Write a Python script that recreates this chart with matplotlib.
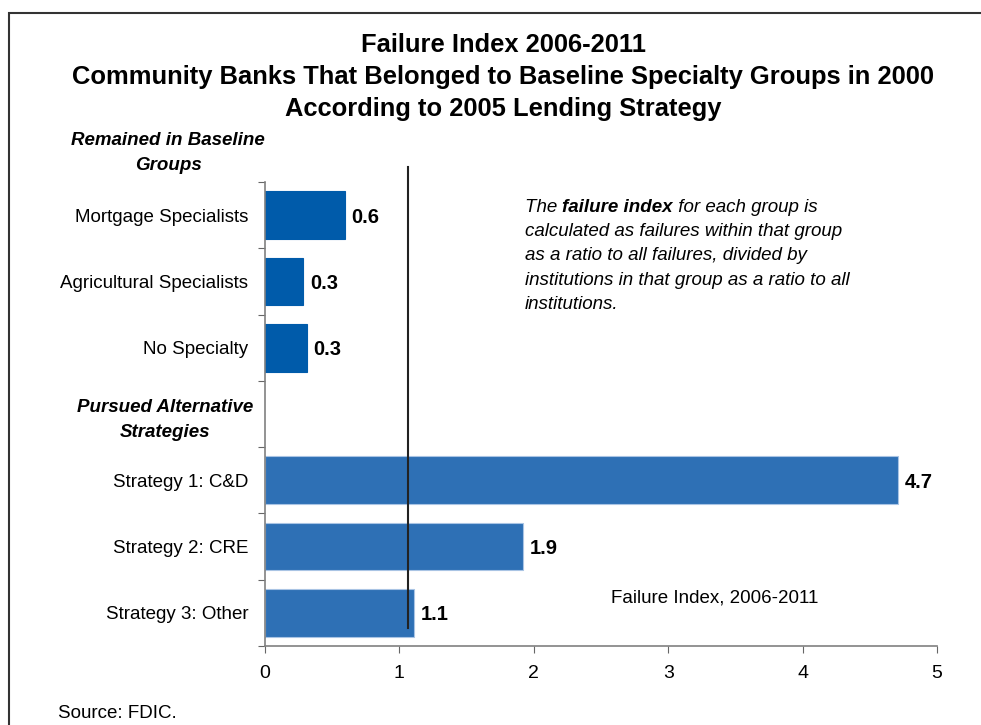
import matplotlib.pyplot as plt
from matplotlib.patches import Rectangle

plt.rcParams['font.family'] = ['Liberation Sans', 'DejaVu Sans']

# data
categories = ["Mortgage Specialists", "Agricultural Specialists", "No Specialty", "",
              "Strategy 1: C&D", "Strategy 2: CRE", "Strategy 3: Other"]
values = [0.595, 0.285, 0.31, None, 4.71, 1.92, 1.11]
value_labels = ["0.6", "0.3", "0.3", "", "4.7", "1.9", "1.1"]
bar_colors = ["#005BAA", "#005BAA", "#005BAA", None, "#2E70B5", "#2E70B5", "#2E70B5"]
ref_line = 1.064
xticks = [0, 1, 2, 3, 4, 5]

title = ("Failure Index 2006-2011\n"
         "Community Banks That Belonged to Baseline Specialty Groups in 2000\n"
         "According to 2005 Lending Strategy")
note_lines = ["calculated as failures within that group",
              "as a ratio to all failures, divided by",
              "institutions in that group as a ratio to all",
              "institutions."]

W, H = 981, 725
fig = plt.figure(figsize=(W / 100, H / 100), dpi=100)
ax = fig.add_axes([265 / W, 1 - 646 / H, (937 - 265) / W, (646 - 182) / H])

for i, (v, lab, c) in enumerate(zip(values, value_labels, bar_colors)):
    if v is None:
        continue
    edge = "#A9C4E4" if c == "#2E70B5" else c
    ax.barh(i, v, height=0.72, color=c, edgecolor=edge, linewidth=0.8)
    ax.text(v + 0.05, i + 0.03, lab, va="center", ha="left", fontsize=14.5, fontweight="bold")

ax.set_xlim(0, 5)
ax.set_ylim(6.5, -0.5)
ax.set_xticks(xticks)
ax.set_xticklabels([str(t) for t in xticks], fontsize=14)
ax.set_yticks([i - 0.5 for i in range(len(categories) + 1)])
ax.set_yticklabels([])
ax.set_yticks(range(len(categories)), minor=True)
ax.set_yticklabels(categories, minor=True, fontsize=13.5)
ax.tick_params(axis="y", which="minor", length=0, pad=12)
ax.tick_params(axis="y", which="major", length=5, color="#666666", direction="out")
ax.tick_params(axis="x", length=5, color="#666666", pad=9)
for s in ["top", "right"]:
    ax.spines[s].set_visible(False)
for s in ["left", "bottom"]:
    ax.spines[s].set_color("#808080")
    ax.spines[s].set_linewidth(1.2)

ax.axvline(ref_line, ymin=0.039, ymax=1.032, color="#222222", lw=1.5, clip_on=False)

# group headers
fig.text(168 / W, 1 - 153 / H, "Remained in Baseline\nGroups", ha="center", va="center",
         fontsize=13.5, fontweight="bold", style="italic", linespacing=1.55)
fig.text(165 / W, 1 - 420 / H, "Pursued Alternative\nStrategies", ha="center", va="center",
         fontsize=13.5, fontweight="bold", style="italic", linespacing=1.55)

fig.text(0.513, 1 - 77 / H, title, ha="center", va="center", fontsize=18.4,
         fontweight="bold", linespacing=1.4)

# note with bold phrase in first line
t1 = fig.text(525 / W, 1 - 207 / H, "The ", ha="left", va="center", fontsize=13.5,
              style="italic")
t2 = fig.text(0, 0, "failure index", fontsize=13.5, style="italic", fontweight="bold")
t3 = fig.text(0, 0, " for each group is", fontsize=13.5, style="italic")
fig.canvas.draw()
r = fig.canvas.get_renderer()
x = t1.get_window_extent(r).x1
yb = t1.get_window_extent(r).y0
for t in (t2, t3):
    t.set_transform(None)
    t.set_position((x, yb))
    t.set_va("bottom")
    x = t.get_window_extent(r).x1
for k, line in enumerate(note_lines):
    fig.text(525 / W, 1 - (207 + 24.5 * (k + 1)) / H, line, ha="left", va="center",
             fontsize=13.5, style="italic")

fig.text(611 / W, 1 - 598 / H, "Failure Index, 2006-2011", ha="left", va="center",
         fontsize=13.5)
fig.text(58 / W, 1 - 714 / H, "Source: FDIC.", ha="left", va="center", fontsize=13.5)

fig.patches.append(Rectangle((9 / W, -0.1), 1.2, 0.1 + 1 - 13 / H,
                             transform=fig.transFigure, fill=False,
                             edgecolor="#333333", lw=1.5))

fig.savefig("out.png", dpi=100)
